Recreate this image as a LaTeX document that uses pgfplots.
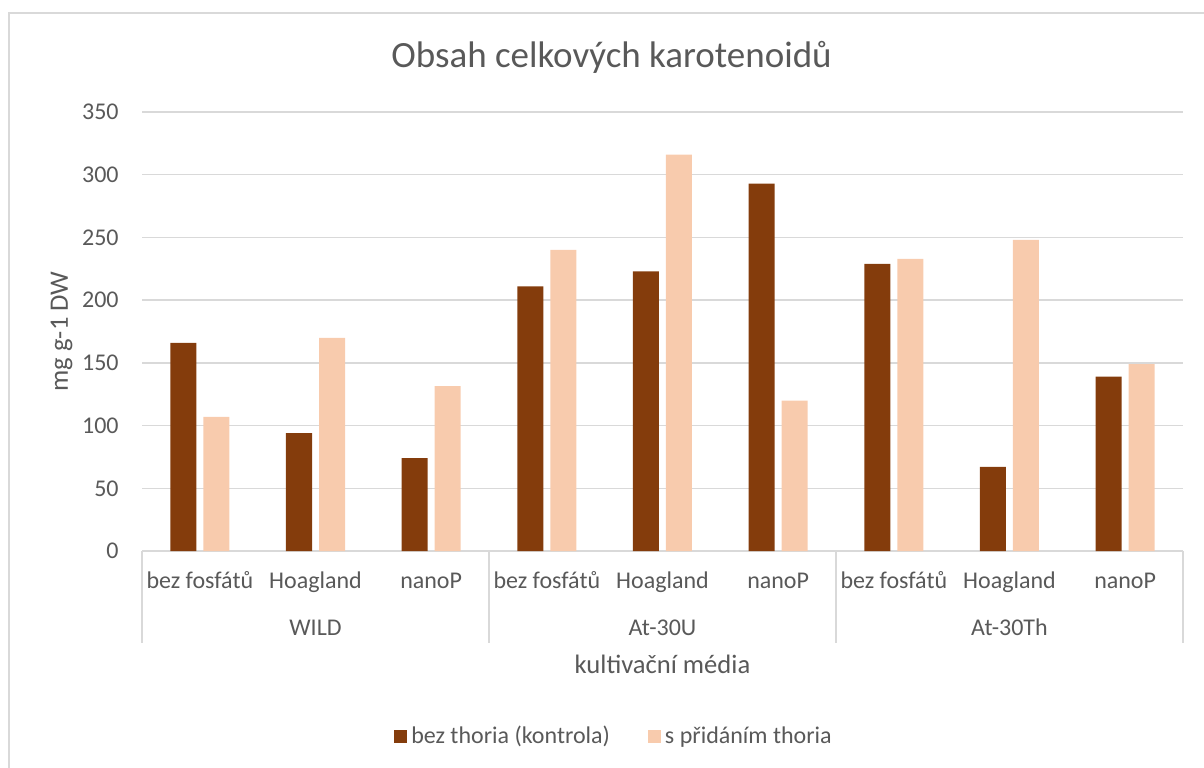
\documentclass[border=0pt]{standalone}
\usepackage{fontspec}
\setmainfont{Carlito}
\usepackage{pgfplots}
\pgfplotsset{compat=1.18}
\definecolor{darkbar}{HTML}{843C0C}
\definecolor{lightbar}{HTML}{F8CBAD}
\definecolor{txt}{HTML}{595959}
\definecolor{gridc}{HTML}{D9D9D9}

\begin{document}
\begin{tikzpicture}
\useasboundingbox (0,0) rectangle (602pt,-383.5pt);
\draw[gridc, line width=0.75pt] (4.5pt,-6.5pt) rectangle (610pt,-392pt);
\node[anchor=base, text=txt, font=\fontsize{18.5}{22}\selectfont] at (305.75pt,-33.5pt) {Obsah celkových karotenoidů};
\begin{axis}[
  at={(71pt,-275.5pt)}, anchor=south west,
  scale only axis, width=520.5pt, height=219.5pt,
  xmin=-0.5, xmax=8.5, ymin=0, ymax=350,
  ytick={0,50,...,350},
  xtick={0,...,8},
  xticklabels={bez fosfátů, Hoagland, nanoP, bez fosfátů, Hoagland, nanoP, bez fosfátů, Hoagland, nanoP},
  /pgf/number format/assume math mode=true,
  axis line style={draw=none},
  major tick length=0pt,
  tick style={draw=none},
  ymajorgrids,
  grid style={gridc, line width=0.75pt},
  ybar=3.5pt, bar width=13pt,
  clip=false,
  ticklabel style={font=\fontsize{12}{14}\selectfont, text=txt},
  xticklabel style={anchor=base, yshift=-18.5pt},
  yticklabel style={anchor=east, inner sep=0pt, xshift=-11.5pt},
  xlabel={kultivační média},
  ylabel={mg g-1 DW},
  every axis x label/.style={at={(axis description cs:0.5,-0.2779)}, anchor=base},
  every axis y label/.style={at={(axis description cs:-0.0711,0.5)}, rotate=90, anchor=base},
  label style={font=\fontsize{13.3}{16}\selectfont, text=txt},
  legend columns=2,
  legend style={at={(axis description cs:0.4544,-0.4226)}, anchor=center, draw=none, fill=none,
    font=\fontsize{12}{14}\selectfont, text=txt,
    /tikz/every even column/.append style={column sep=17pt}},
]
\addplot[fill=darkbar, draw=none,
  legend image code/.code={\fill[darkbar] (0pt,-3.25pt) rectangle (6.5pt,3.25pt);}]
  coordinates {(0,166) (1,94) (2,74) (3,211) (4,223) (5,293) (6,229) (7,67) (8,139)};
\addplot[fill=lightbar, draw=none,
  legend image code/.code={\fill[lightbar] (0pt,-3.25pt) rectangle (6.5pt,3.25pt);}]
  coordinates {(0,107) (1,170) (2,131.5) (3,240) (4,316) (5,120) (6,233) (7,248) (8,149)};
\legend{bez thoria (kontrola), s přidáním thoria}
\draw[gridc, line width=0.75pt] (axis cs:-0.5,0) -- ++(0pt,-46pt);
\draw[gridc, line width=0.75pt] (axis cs:2.5,0) -- ++(0pt,-46pt);
\draw[gridc, line width=0.75pt] (axis cs:5.5,0) -- ++(0pt,-46pt);
\draw[gridc, line width=0.75pt] (axis cs:8.5,0) -- ++(0pt,-46pt);
\node[anchor=base, text=txt, font=\fontsize{12}{14}\selectfont, yshift=-42pt] at (axis cs:1,0) {WILD};
\node[anchor=base, text=txt, font=\fontsize{12}{14}\selectfont, yshift=-42pt] at (axis cs:4,0) {At-30U};
\node[anchor=base, text=txt, font=\fontsize{12}{14}\selectfont, yshift=-42pt] at (axis cs:7,0) {At-30Th};
\end{axis}
\end{tikzpicture}
\end{document}
